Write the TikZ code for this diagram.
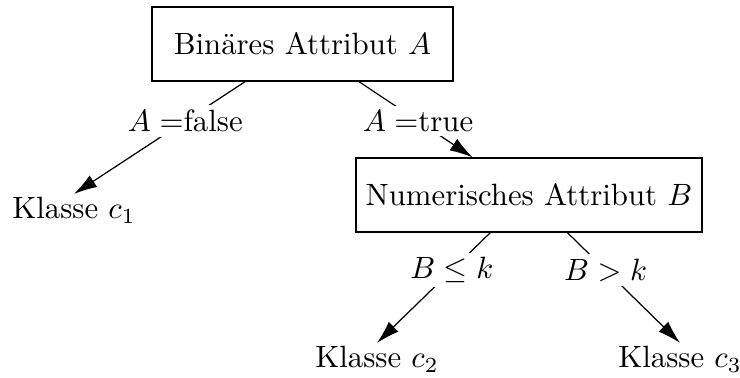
\documentclass[tikz,border=0pt]{standalone}
\usepackage{fontspec}
\usetikzlibrary{arrows.meta}
\begin{document}
\begin{tikzpicture}[x=0.3247pt,y=-0.3247pt,
  box/.style={draw, minimum height=24pt, inner xsep=3pt},
  leaf/.style={inner sep=1pt, anchor=base},
  lbl/.style={fill=white, inner sep=1.5pt},
  arr/.style={-{Latex[length=7.5pt,width=4.5pt]}}]
\useasboundingbox (0,0) rectangle (740,378);
\node[box, minimum width=97.7pt] (A) at (302.5,44) {Binäres Attribut $A$};
\node[box, minimum width=112.3pt] (B) at (529,195) {Numerisches Attribut $B$};
\node[leaf] (c1) at (74,219) {Klasse $c_1$};
\node[leaf] (c2) at (377,368) {Klasse $c_2$};
\node[leaf] (c3) at (680,368) {Klasse $c_3$};
\draw[arr] (A) -- node[lbl, pos=0.35] (lf) {$A=$false} (c1.north);
\draw[arr] (A) -- node[lbl, pos=0.52] (lt) {$A=$true} (B);
\draw[arr] (B) -- node[lbl, pos=0.34] (lle) {$B\le k$} (c2.north);
\draw[arr] (B) -- node[lbl, pos=0.34] (lgt) {$B>k$} (c3.north);
\end{tikzpicture}
\end{document}
